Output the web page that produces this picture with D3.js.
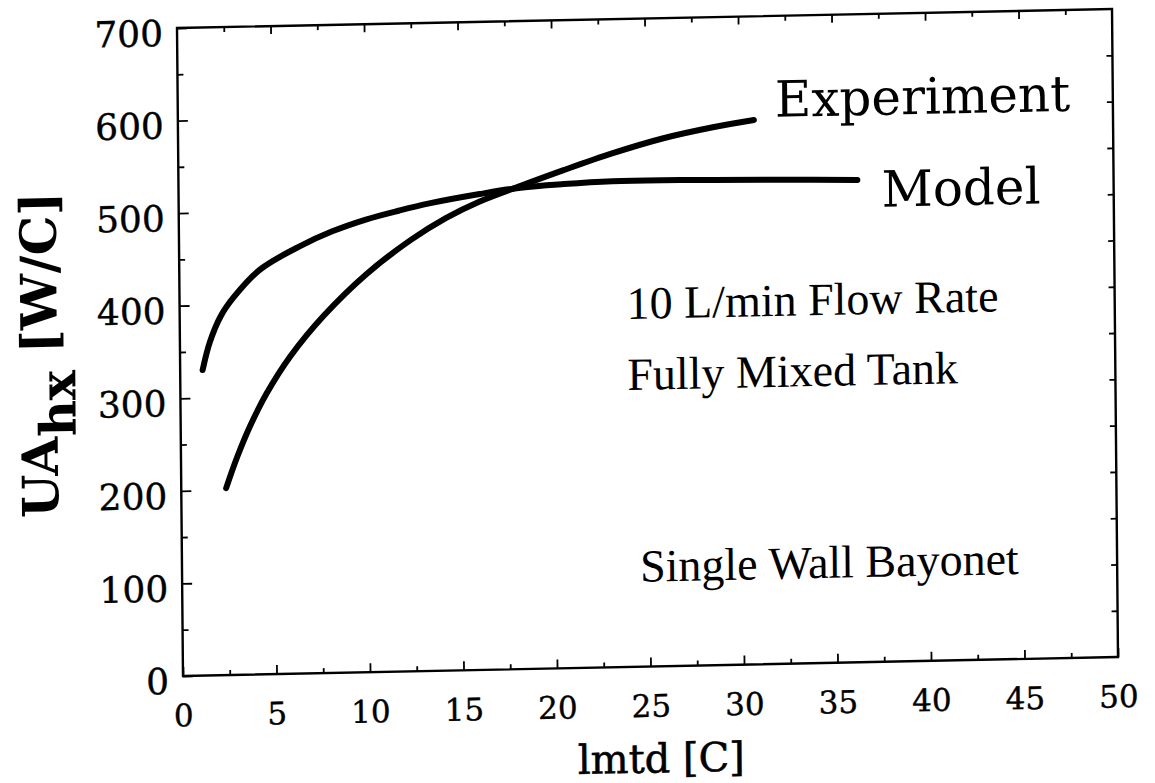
<!DOCTYPE html>
<html>
<head>
<meta charset="utf-8">
<script src="https://cdn.jsdelivr.net/npm/d3@7"></script>
<style>
  html, body { margin: 0; padding: 0; background: #fff; }
  svg { display: block; }
</style>
</head>
<body>
<svg id="chart" width="1155" height="783"></svg>
<script>
// ---- data ----
const xTicks = [0, 5, 10, 15, 20, 25, 30, 35, 40, 45, 50];
const yTicks = [0, 100, 200, 300, 400, 500, 600, 700];

const modelX = [1.2, 1.6, 2.2, 2.9, 4.3, 6.5, 8.2, 10.0, 11.8, 13.4, 16.1, 18.3, 20.6, 23.2, 25.9, 28.6, 32.2, 36.3];
const modelY = [330, 360, 388, 408, 437, 462, 477, 489, 498, 505, 514, 520, 523, 525, 525, 524, 523, 521];

const expX = [2.4, 3.0, 3.7, 4.6, 5.9, 7.7, 10.0, 12.4, 14.3, 16.1, 18.3, 20.6, 23.2, 25.9, 28.6, 30.8];
const expY = [202, 235, 268, 303, 343, 386, 430, 466, 489, 506, 522, 538, 555, 570, 581, 588];

const seriesLabels = ["Experiment", "Model"];
const notes = ["10 L/min Flow Rate", "Fully Mixed Tank", "Single Wall Bayonet"];
const xTitle = "lmtd [C]";

// ---- layout ----
const W = 935, H = 648;
const svg = d3.select("#chart");
// the scanned figure is slightly rotated/sheared
const g = svg.append("g").attr("transform", "matrix(1,-0.0203,0.00926,1,177,28)");

const x = d3.scaleLinear().domain([0, 50]).range([0, W]);
const y = d3.scaleLinear().domain([0, 700]).range([H, 0]);

const tickFont = "'DejaVu Serif', serif";

// frame
g.append("rect").attr("x", 0).attr("y", 0).attr("width", W).attr("height", H)
  .attr("fill", "none").attr("stroke", "#000").attr("stroke-width", 2.4);

function styleAxis(sel) {
  sel.select(".domain").remove();
  sel.selectAll("line").attr("stroke", "#000").attr("stroke-width", 1.8);
}

// left axis (major with labels, minor)
g.append("g").call(d3.axisLeft(y).tickValues(d3.range(50, 700, 100)).tickSize(-6).tickFormat(""))
  .call(styleAxis);
g.append("g").call(d3.axisLeft(y).tickValues(yTicks).tickSizeInner(-10).tickSizeOuter(0).tickPadding(14))
  .call(styleAxis)
  .call(s => s.selectAll("text")
    .attr("font-family", tickFont).attr("font-size", 36).attr("fill", "#000")
    .attr("stroke", "#000").attr("stroke-width", 0.4)
    .attr("dy", "0.48em"));

// bottom axis
g.append("g").attr("transform", `translate(0,${H})`)
  .call(d3.axisBottom(x).tickValues(d3.range(2.5, 50, 5)).tickSize(-5).tickFormat(""))
  .call(styleAxis);
g.append("g").attr("transform", `translate(0,${H})`)
  .call(d3.axisBottom(x).tickValues(xTicks).tickSizeInner(-9).tickSizeOuter(0).tickPadding(28))
  .call(styleAxis)
  .call(s => s.selectAll("text")
    .attr("font-family", tickFont).attr("font-size", 31).attr("fill", "#000")
    .attr("stroke", "#000").attr("stroke-width", 0.4)
    .attr("dy", "0.72em"));

// top axis
g.append("g")
  .call(d3.axisTop(x).tickValues(d3.range(2.5, 50, 5)).tickSize(-5).tickFormat(""))
  .call(styleAxis);
g.append("g")
  .call(d3.axisTop(x).tickValues(d3.range(5, 50, 5)).tickSize(-8).tickFormat(""))
  .call(styleAxis);

// right axis
g.append("g").attr("transform", `translate(${W},0)`)
  .call(d3.axisRight(y).tickValues(d3.range(50, 700, 50)).tickSize(-6).tickFormat(""))
  .call(styleAxis);

// curves
const line = d3.line().x(d => x(d[0])).y(d => y(d[1])).curve(d3.curveCatmullRom.alpha(0.5));
const modelData = modelX.map((v, i) => [v, modelY[i]]);
const expData = expX.map((v, i) => [v, expY[i]]);

g.append("path").datum(modelData).attr("d", line)
  .attr("fill", "none").attr("stroke", "#000").attr("stroke-width", 6).attr("stroke-linecap", "round");
g.append("path").datum(expData).attr("d", line)
  .attr("fill", "none").attr("stroke", "#000").attr("stroke-width", 6).attr("stroke-linecap", "round");

// series labels
g.append("text").attr("x", 597).attr("y", 101).text(seriesLabels[0])
  .attr("font-family", tickFont).attr("font-size", 50).attr("fill", "#000");
g.append("text").attr("x", 703).attr("y", 193).text(seriesLabels[1])
  .attr("font-family", tickFont).attr("font-size", 50).attr("fill", "#000");

// notes (Times-like)
const noteFont = "'Liberation Serif', 'Times New Roman', serif";
g.append("text").attr("x", 447).attr("y", 300).text(notes[0])
  .attr("font-family", noteFont).attr("font-size", 46).attr("fill", "#000");
g.append("text").attr("x", 447).attr("y", 371).text(notes[1])
  .attr("font-family", noteFont).attr("font-size", 46).attr("fill", "#000");
g.append("text").attr("x", 458).attr("y", 563).text(notes[2])
  .attr("font-family", noteFont).attr("font-size", 46).attr("fill", "#000");

// axis titles
const yt = g.append("text")
  .attr("transform", "translate(-123,324) rotate(-90)")
  .attr("text-anchor", "middle")
  .attr("font-family", tickFont).attr("font-weight", "bold").attr("font-size", 50).attr("fill", "#000");
yt.append("tspan").text("UA");
yt.append("tspan").attr("dy", 18).text("hx");
yt.append("tspan").attr("dy", -18).text(" [W/C]");

g.append("text").attr("x", W / 2 + 10).attr("y", 754).attr("text-anchor", "middle")
  .text(xTitle)
  .attr("font-family", tickFont).attr("font-size", 40).attr("fill", "#000")
  .attr("stroke", "#000").attr("stroke-width", 0.6);
</script>
</body>
</html>
